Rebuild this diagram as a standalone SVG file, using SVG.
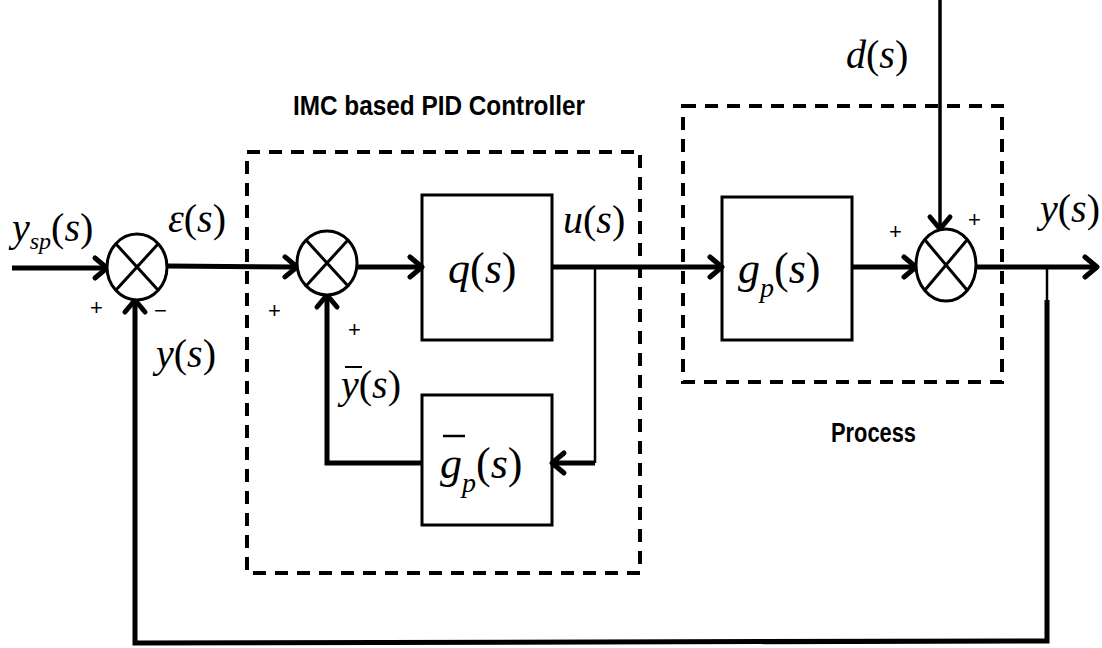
<svg xmlns="http://www.w3.org/2000/svg" width="1102" height="648" viewBox="0 0 1102 648">
<style>
.box{fill:none;stroke:#000;stroke-width:3}
.sum{fill:#fff;stroke:#000;stroke-width:3}
.x{stroke:#000;stroke-width:3}
.dash{fill:none;stroke:#000;stroke-width:4;stroke-dasharray:13 9}
.w{fill:none;stroke:#000;stroke-width:5;stroke-linecap:butt}
.t{fill:none;stroke:#000;stroke-width:2.5}
.m{font-family:"Liberation Serif","Times New Roman",serif;fill:#000}
.i{font-style:italic}
.b{font-family:"Liberation Sans",Arial,sans-serif;font-weight:bold;font-size:27px;fill:#000}
</style>
<defs>
<marker id="ah" markerUnits="userSpaceOnUse" markerWidth="30" markerHeight="30" refX="22" refY="15" orient="auto" overflow="visible">
<path d="M10,5 L22,15 L10,25" fill="none" stroke="#000" stroke-width="5" stroke-linecap="round" stroke-linejoin="round"/>
</marker>
</defs>

<g id="imc-box">
<rect class="dash" x="247" y="152" width="393" height="421"/>
<text class="b" x="293" y="115" textLength="292" lengthAdjust="spacingAndGlyphs">IMC based PID Controller</text>
</g>
<g id="process-box">
<rect class="dash" x="683" y="106" width="319" height="276"/>
<text class="b" x="831" y="442" textLength="85" lengthAdjust="spacingAndGlyphs">Process</text>
</g>

<g id="connectors">
<line class="w" x1="12" y1="268" x2="107" y2="268" marker-end="url(#ah)"/>
<line class="w" x1="167" y1="266" x2="297" y2="267" marker-end="url(#ah)"/>
<line class="w" x1="357" y1="267" x2="422" y2="267" marker-end="url(#ah)"/>
<line class="w" x1="552" y1="267" x2="722" y2="267" marker-end="url(#ah)"/>
<line class="w" x1="852" y1="267" x2="916" y2="267" marker-end="url(#ah)"/>
<line class="w" x1="976" y1="267" x2="1097" y2="267" marker-end="url(#ah)"/>
<line fill="none" stroke="#000" stroke-width="3.5" x1="940" y1="0" x2="940" y2="229" marker-end="url(#ah)"/>
<polyline class="t" points="595,267 595,463"/>
<polyline class="w" points="595,463 552,463" marker-end="url(#ah)"/>
<polyline class="w" points="422,463 327,463 327,295" marker-end="url(#ah)"/>
<polyline class="t" points="1047,267 1047,300"/>
<polyline class="w" points="1047,300 1047,641 135,643 135,300" marker-end="url(#ah)"/>
</g>

<g id="sum1">
<ellipse class="sum" cx="137" cy="267" rx="30" ry="33"/>
<line class="x" x1="116" y1="244" x2="158" y2="290"/>
<line class="x" x1="158" y1="244" x2="116" y2="290"/>
</g>
<g id="sum2">
<ellipse class="sum" cx="327" cy="263" rx="30" ry="32"/>
<line class="x" x1="306" y1="240" x2="348" y2="286"/>
<line class="x" x1="348" y1="240" x2="306" y2="286"/>
</g>
<g id="sum3">
<ellipse class="sum" cx="946" cy="265" rx="30" ry="36"/>
<line class="x" x1="925" y1="240" x2="967" y2="290"/>
<line class="x" x1="967" y1="240" x2="925" y2="290"/>
</g>

<g id="q">
<rect class="box" x="422" y="195" width="130" height="145" fill="#fff"/>
<text class="m" x="448" y="283" font-size="44"><tspan class="i">q</tspan>(<tspan class="i">s</tspan>)</text>
</g>
<g id="gbar">
<rect class="box" x="422" y="395" width="130" height="130" fill="#fff"/>
<line x1="443" y1="436" x2="465" y2="436" stroke="#000" stroke-width="2.5"/>
<text class="m" x="440" y="478" font-size="44"><tspan class="i">g</tspan><tspan class="i" font-size="28" dy="14">p</tspan><tspan dy="-14">(</tspan><tspan class="i">s</tspan>)</text>
</g>
<g id="gp">
<rect class="box" x="722" y="197" width="130" height="143" fill="#fff"/>
<text class="m" x="738" y="283" font-size="44"><tspan class="i">g</tspan><tspan class="i" font-size="28" dy="14">p</tspan><tspan dy="-14">(</tspan><tspan class="i">s</tspan>)</text>
</g>

<g id="labels">
<text class="m" x="12" y="241" font-size="40"><tspan class="i">y</tspan><tspan class="i" font-size="24" dy="8">sp</tspan><tspan dy="-8">(</tspan><tspan class="i">s</tspan>)</text>
<text class="m" x="168" y="232" font-size="40"><tspan class="i">ε</tspan>(<tspan class="i">s</tspan>)</text>
<text class="m" x="156" y="367" font-size="40"><tspan class="i">y</tspan>(<tspan class="i">s</tspan>)</text>
<text class="m" x="341" y="398" font-size="40"><tspan class="i">y</tspan>(<tspan class="i">s</tspan>)</text>
<line x1="345" y1="367" x2="362" y2="367" stroke="#000" stroke-width="2"/>
<text class="m" x="563" y="233" font-size="40"><tspan class="i">u</tspan>(<tspan class="i">s</tspan>)</text>
<text class="m" x="846" y="68" font-size="40"><tspan class="i">d</tspan>(<tspan class="i">s</tspan>)</text>
<text class="m" x="1040" y="222" font-size="40"><tspan class="i">y</tspan>(<tspan class="i">s</tspan>)</text>
<g font-family="Liberation Sans, Arial, sans-serif" font-size="22" fill="#000">
<text x="90" y="315">+</text>
<text x="154" y="318">−</text>
<text x="268" y="318">+</text>
<text x="348" y="337">+</text>
<text x="889" y="239">+</text>
<text x="968" y="227">+</text>
</g>
</g>
</svg>
